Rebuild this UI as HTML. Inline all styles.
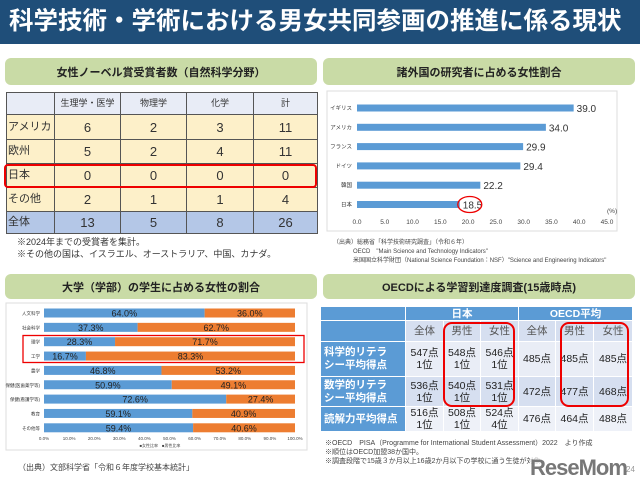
<!DOCTYPE html>
<html><head><meta charset="utf-8">
<style>
*{margin:0;padding:0;box-sizing:border-box}
body{width:640px;height:485px;overflow:hidden;background:#fff;font-family:"Liberation Sans","Noto Sans CJK JP",sans-serif;position:relative}
.a{position:absolute}
.ttl{position:absolute;background:#c9dba6;border-radius:6px;font-weight:bold;font-size:11px;color:#222;display:flex;align-items:center;justify-content:center}
table{border-collapse:collapse;position:absolute;table-layout:fixed}
td{padding:0;overflow:hidden;white-space:nowrap}
.t1 td{border:1px solid #555;text-align:center;font-size:13px;color:#333;line-height:13px}
.t1 td.l{text-align:left;padding-left:1px;font-size:11px}
.t2 td{border:1px solid #fff;text-align:center;font-size:10.5px;color:#222;line-height:12px}
.t2 td.h{background:#5b9bd5;color:#fff;font-weight:bold;text-align:left;padding-left:3px;font-size:10.5px;line-height:13px}
</style></head><body>
<div class="a" style="left:0;top:0;width:640px;height:44px;background:#1f4e79;color:#fff;font-size:24.5px;font-weight:bold;padding-left:9px;line-height:44px;white-space:nowrap">科学技術・学術における男女共同参画の推進に係る現状</div>

<div class="ttl" style="left:5px;top:58px;width:312px;height:27px">女性ノーベル賞受賞者数（自然科学分野）</div>
<table class="t1" style="left:6px;top:92px;width:311px">
<colgroup><col style="width:48px"><col style="width:66px"><col style="width:66px"><col style="width:67px"><col style="width:64px"></colgroup>
<tr style="height:22px;background:#e8ecf6"><td></td><td style="font-size:9px">生理学・医学</td><td style="font-size:9px">物理学</td><td style="font-size:9px">化学</td><td style="font-size:9px">計</td></tr>
<tr style="height:25px;background:#fdf0c9"><td class="l">アメリカ</td><td>6</td><td>2</td><td>3</td><td>11</td></tr>
<tr style="height:24px;background:#fdf0c9"><td class="l">欧州</td><td>5</td><td>2</td><td>4</td><td>11</td></tr>
<tr style="height:24px;background:#fdf0c9"><td class="l">日本</td><td>0</td><td>0</td><td>0</td><td>0</td></tr>
<tr style="height:24px;background:#fdf0c9"><td class="l">その他</td><td>2</td><td>1</td><td>1</td><td>4</td></tr>
<tr style="height:22px;background:#b4c7e7"><td class="l">全体</td><td>13</td><td>5</td><td>8</td><td>26</td></tr>
</table>
<div class="a" style="left:4px;top:164px;width:313px;height:24px;border:2px solid #e00;border-radius:4px"></div>
<div class="a" style="left:17px;top:236px;font-size:9px;color:#333;line-height:12px">※2024年までの受賞者を集計。<br>※その他の国は、イスラエル、オーストラリア、中国、カナダ。</div>

<div class="ttl" style="left:323px;top:58px;width:312px;height:27px">諸外国の研究者に占める女性割合</div>
<svg class="a" style="left:320px;top:88px" width="320" height="150" id="c1"></svg>
<div class="a" style="left:333px;top:239px;font-size:6px;color:#444;line-height:9px;white-space:nowrap">（出典）総務省「科学技術研究調査」（令和６年）<br>&nbsp;&nbsp;&nbsp;&nbsp;&nbsp;&nbsp;&nbsp;&nbsp;&nbsp;&nbsp;&nbsp;&nbsp;OECD　"Main Science and Technology Indicators"<br>&nbsp;&nbsp;&nbsp;&nbsp;&nbsp;&nbsp;&nbsp;&nbsp;&nbsp;&nbsp;&nbsp;&nbsp;米国国立科学財団（National Science Foundation：NSF）"Science and Engineering Indicators"</div>

<div class="ttl" style="left:5px;top:274px;width:312px;height:25px">大学（学部）の学生に占める女性の割合</div>
<svg class="a" style="left:0;top:300px" width="320" height="155" id="c2"></svg>
<div class="a" style="left:18px;top:462px;font-size:8px;color:#444">（出典）文部科学省「令和６年度学校基本統計」</div>

<div class="ttl" style="left:323px;top:274px;width:312px;height:25px">OECDによる学習到達度調査(15歳時点)</div>
<table class="t2" style="left:320px;top:306px;width:312px">
<colgroup><col style="width:85px"><col style="width:38px"><col style="width:37px"><col style="width:38px"><col style="width:37px"><col style="width:38px"><col style="width:39px"></colgroup>
<tr style="height:14px"><td class="h"></td><td colspan="3" style="background:#5b9bd5;color:#fff;font-weight:bold">日本</td><td colspan="3" style="background:#5b9bd5;color:#fff;font-weight:bold">OECD平均</td></tr>
<tr style="height:21px;background:#d6dff0"><td class="h"></td><td style="color:#555">全体</td><td style="color:#555">男性</td><td style="color:#555">女性</td><td style="color:#555">全体</td><td style="color:#555">男性</td><td style="color:#555">女性</td></tr>
<tr style="height:35px;background:#e9edf6"><td class="h">科学的リテラ<br>シー平均得点</td><td>547点<br>1位</td><td>548点<br>1位</td><td>546点<br>1位</td><td>485点</td><td>485点</td><td>485点</td></tr>
<tr style="height:30px;background:#d6dff0"><td class="h">数学的リテラ<br>シー平均得点</td><td>536点<br>1位</td><td>540点<br>1位</td><td>531点<br>1位</td><td>472点</td><td>477点</td><td>468点</td></tr>
<tr style="height:24px;background:#eef1f8"><td class="h">読解力平均得点</td><td>516点<br>1位</td><td>508点<br>1位</td><td>524点<br>4位</td><td>476点</td><td>464点</td><td>488点</td></tr>
</table>
<div class="a" style="left:443px;top:322px;width:72px;height:85px;border:2px solid #e00;border-radius:9px"></div>
<div class="a" style="left:560px;top:322px;width:69px;height:85px;border:2px solid #e00;border-radius:9px"></div>
<div class="a" style="left:325px;top:439px;font-size:7px;color:#444;line-height:9px;white-space:nowrap">※OECD　PISA（Programme for International Student Assessment）2022　より作成<br>※順位はOECD加盟38か国中。<br>※調査段階で15歳３か月以上16歳2か月以下の学校に通う生徒が対象</div>
<div class="a" style="left:530px;top:455px;font-size:22px;font-weight:bold;color:#777;letter-spacing:-1px;background:rgba(255,255,255,0.7);line-height:26px">ReseMom</div>
<div class="a" style="left:626px;top:465px;font-size:8px;color:#999">24</div>

<script>
// researcher chart data
const countries=["イギリス","アメリカ","フランス","ドイツ","韓国","日本"];
const ratios=[39.0,34.0,29.9,29.4,22.2,18.5];
const xTicks=[0,5,10,15,20,25,30,35,40,45];
// university chart data
const fields=["人文科学","社会科学","理学","工学","農学","保健(医歯薬学等)","保健(看護学等)","教育","その他等"];
const femaleShare=[64.0,37.3,28.3,16.7,46.8,50.9,72.6,59.1,59.4];
const maleShare=[36.0,62.7,71.7,83.3,53.2,49.1,27.4,40.9,40.6];
const pctTicks=[0,10,20,30,40,50,60,70,80,90,100];
const NS="http://www.w3.org/2000/svg";
function mk(svg,tag,attrs,txt){const e=document.createElementNS(NS,tag);for(const k in attrs)e.setAttribute(k,attrs[k]);if(txt!==undefined)e.textContent=txt;svg.appendChild(e);return e;}
(function(){
 const s=document.getElementById('c1');
 const x=v=>37+v*(250/45);
 const y=i=>20+i*19.3;
 const fr=mk(s,'rect',{x:7,y:3,width:290,height:140,fill:'none',stroke:'#ddd'});
 
 countries.forEach((c,i)=>{
  const l=mk(s,'text',{x:32,y:y(i)+2,'font-size':5.5,'text-anchor':'end',fill:'#333'},c);
  
  const b=mk(s,'rect',{x:x(0),y:y(i)-3.5,width:x(ratios[i])-x(0),height:7,fill:'#5b9bd5'});
  
  const v=mk(s,'text',{x:x(ratios[i])+3,y:y(i)+4,'font-size':10,fill:'#333'},ratios[i].toFixed(1));
  
 });
 const last=ratios.length-1;
 const ci=mk(s,'ellipse',{cx:x(ratios[last])+10,cy:y(last),rx:12,ry:8,fill:'none',stroke:'#e00','stroke-width':1.3});
 
 xTicks.forEach(t=>{
  const e=mk(s,'text',{x:x(t),y:136,'font-size':6.5,'text-anchor':'middle',fill:'#444'},t.toFixed(1));
  
 });
 const u=mk(s,'text',{x:287,y:125,'font-size':6.5,fill:'#444'},'(%)');
 
})();
(function(){
 const s=document.getElementById('c2');
 const x=v=>44+v*2.51;
 const y=i=>13+i*14.35;
 const fr=mk(s,'rect',{x:6,y:3,width:301,height:147,fill:'none',stroke:'#ddd'});
 
 fields.forEach((f,i)=>{
  const l=mk(s,'text',{x:40,y:y(i)+2,'font-size':4.5,'text-anchor':'end',fill:'#333'},f);
  
  const b=mk(s,'rect',{x:x(0),y:y(i)-4.5,width:x(femaleShare[i])-x(0),height:9,fill:'#5b9bd5'});
  
  const m=mk(s,'rect',{x:x(femaleShare[i]),y:y(i)-4.5,width:x(femaleShare[i]+maleShare[i])-x(femaleShare[i]),height:9,fill:'#ed7d31'});
  
  const fv=mk(s,'text',{x:(x(0)+x(femaleShare[i]))/2,y:y(i)+3.5,'font-size':9,'text-anchor':'middle',fill:'#222'},femaleShare[i].toFixed(1)+'%');
  
  const mv=mk(s,'text',{x:(x(femaleShare[i])+x(100))/2,y:y(i)+3.5,'font-size':9,'text-anchor':'middle',fill:'#222'},maleShare[i].toFixed(1)+'%');
  
 });
 pctTicks.forEach(t=>{
  const e=mk(s,'text',{x:x(t),y:140,'font-size':4.5,'text-anchor':'middle',fill:'#444'},t.toFixed(1)+'%');
  
 });
 const lg=mk(s,'text',{x:160,y:147,'font-size':4,'text-anchor':'middle',fill:'#444'},'■女性比率　■男性比率');
 
 const hb=mk(s,'rect',{x:23,y:35.5,width:281,height:27,fill:'none',stroke:'#e00','stroke-width':1.3});
 
})();
</script>
</body></html>
